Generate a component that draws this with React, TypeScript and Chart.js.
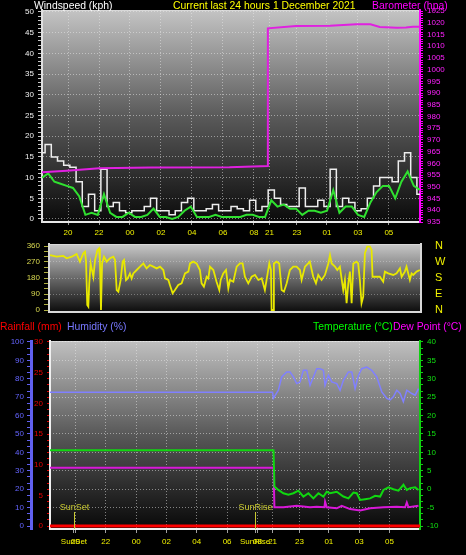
import React, { useEffect, useRef } from 'react';
import { Chart, registerables } from 'chart.js';

Chart.register(...registerables);

const FONT = "'Liberation Sans', Arial, Helvetica, sans-serif";

// ---------- x axis (hours elapsed from the left edge of the charts) ----------
const X_MAX = 24.4;
const xTickHours = [1.68, 3.68, 5.68, 7.68, 9.68, 11.68, 13.68, 14.68, 16.45, 18.39, 20.39, 22.39];
const xTickLabels = ['20', '22', '00', '02', '04', '06', '08', '21', '23', '01', '03', '05'];
const sunEventHours = [1.58, 13.52];
const sunEventNames = ['SunSet', 'SunRise'];

// ---------- wind speed (kph), one reading every 0.4 h ----------
const WIND_STEP_HOURS = 0.4;
const windGust = [
  16, 18, 15, 14, 13, 12.5, 9, 3, 6, 2,
  12, 3, 4, 2, 1.5, 2, 2, 3, 5, 2,
  2, 1, 2, 4, 5, 2, 2, 2.5, 3.5, 2,
  2, 3, 2.5, 2, 4.5, 2, 3, 7, 5, 3.5,
  3, 3, 7.5, 3, 3, 4.5, 3, 12, 3, 5,
  4, 2, 2.5, 5, 8, 10, 10, 9, 14, 16,
  10, 6,
];
const windAverage = [
  10, 11, 9, 8.5, 8, 7.5, 5.5, 1, 1.5, 1,
  6, 1.5, 0.5, 0.5, 1.5, 0.5, 0.5, 1, 2.5, 0.5,
  0.5, 0, 0.5, 2, 3, 0.5, 0.5, 0.5, 1, 0.5,
  0.5, 0.5, 0.5, 1, 1, 0.5, 0.5, 4.5, 3, 3.5,
  2.5, 2.5, 1, 2, 2, 1.5, 2, 7, 1.5, 3,
  3, 1, 0.5, 4, 6.5, 8, 8, 5, 9, 11.5,
  8, 7,
];
const windTimes = windGust.map((_, i) => i * WIND_STEP_HOURS);

// ---------- barometer (hPa) ----------
const baroHours = [0, 1.6, 3.7, 7.0, 12.1, 14.58, 14.58, 16.4, 18.6, 20.3, 21.2, 21.8, 22.9, 23.5, 23.95, 24.4];
const baroValues = [956.2, 956.9, 957.9, 958.3, 958.4, 958.9, 1017.6, 1018.6, 1018.7, 1019.3, 1019.3, 1018.2, 1017.9, 1018, 1018.3, 1018.3];

// ---------- wind direction (degrees) ----------
const dirHours = [
  0.07, 0.5, 0.94, 1.16, 1.49, 1.81, 2.03, 2.25, 2.36, 2.43,
  2.51, 2.58, 2.64, 2.73, 2.91, 3.02, 3.17, 3.28, 3.34, 3.41,
  3.48, 3.61, 3.78, 4.0, 4.22, 4.33, 4.44, 4.55, 4.7, 4.83,
  4.92, 5.05, 5.16, 5.31, 5.42, 5.53, 5.75, 5.97, 6.19, 6.4,
  6.62, 6.84, 7.06, 7.28, 7.5, 7.61, 7.83, 7.93, 8.11, 8.26,
  8.48, 8.7, 8.92, 9.14, 9.25, 9.46, 9.68, 9.9, 10.01, 10.16,
  10.34, 10.45, 10.56, 10.78, 10.99, 11.17, 11.26, 11.43, 11.61, 11.76,
  11.87, 12.09, 12.31, 12.52, 12.7, 12.85, 13.07, 13.29, 13.51, 13.73,
  13.95, 14.16, 14.27, 14.45, 14.56, 14.6, 14.71, 14.75, 14.93, 15.1,
  15.26, 15.41, 15.59, 15.8, 16.02, 16.24, 16.46, 16.57, 16.79, 17.0,
  17.11, 17.33, 17.51, 17.66, 17.88, 18.1, 18.32, 18.43, 18.54, 18.76,
  18.91, 19.08, 19.3, 19.41, 19.52, 19.63, 19.74, 19.85, 19.96, 20.17,
  20.28, 20.39, 20.5, 20.61, 20.72, 20.87, 21.05, 21.16, 21.22, 21.49,
  21.7, 21.92, 22.03, 22.25, 22.58, 22.8, 23.02, 23.13, 23.34, 23.45,
  23.67, 23.78, 23.89, 24.11, 24.33,
];
const dirDegrees = [
  309, 300, 304, 291, 300, 315, 272, 319, 328, 272,
  28, 19, 150, 262, 187, 281, 337, 347, 281, 0,
  262, 300, 272, 291, 300, 281, 112, 103, 169, 272,
  281, 169, 178, 206, 178, 206, 225, 244, 262, 234,
  253, 244, 234, 244, 225, 178, 169, 141, 94, 112,
  141, 150, 206, 216, 262, 272, 262, 225, 150, 131,
  187, 178, 244, 225, 159, 112, 169, 206, 225, 122,
  169, 159, 244, 262, 262, 187, 150, 187, 197, 169,
  178, 112, 169, 262, 225, 0, 0, 262, 272, 262,
  112, 103, 150, 225, 244, 244, 225, 169, 244, 262,
  272, 187, 150, 197, 169, 197, 262, 309, 262, 244,
  225, 244, 112, 169, 38, 150, 216, 38, 262, 272,
  262, 169, 38, 75, 319, 356, 356, 338, 187, 187,
  187, 159, 216, 206, 197, 206, 234, 187, 216, 244,
  169, 206, 197, 216, 225,
];
const compassLabels = ['N', 'E', 'S', 'W', 'N'];

// ---------- humidity (%) ----------
const humHours = [
  0, 14.68, 14.73, 15.06, 15.28, 15.61, 15.83, 16.05, 16.27, 16.49,
  16.71, 16.93, 17.15, 17.37, 17.59, 17.81, 18.03, 18.14, 18.36, 18.58,
  18.91, 19.13, 19.35, 19.68, 19.9, 20.12, 20.34, 20.56, 20.89, 21.22,
  21.55, 21.88, 22.21, 22.43, 22.65, 22.87, 23.09, 23.3, 23.53, 23.86,
  24.08, 24.3,
];
const humValues = [
  72.7, 72.7, 69.4, 73.8, 81, 83.7, 83.7, 81, 77.4, 78.3,
  84.6, 84.6, 76.5, 81, 85.5, 85.5, 84.6, 76.5, 81.9, 78.3,
  77.4, 73.8, 79.2, 83.7, 83.7, 74.7, 81.9, 85.5, 86.4, 84.6,
  81, 72.9, 69.4, 68.5, 70.3, 73.8, 72, 67.6, 73.8, 72,
  71.1, 74.7,
];

// ---------- temperature / dew point (°C) ----------
const tempHours = [
  0, 14.74, 14.8, 15.06, 15.39, 15.72, 16.05, 16.38, 16.71, 17.04,
  17.37, 17.7, 18.03, 18.25, 18.47, 18.91, 19.35, 19.68, 20.01, 20.23,
  20.45, 20.78, 21.11, 21.44, 21.77, 21.99, 22.32, 22.65, 22.98, 23.31,
  23.53, 23.75, 24.08, 24.3,
];
const tempValues = [
  10.6, 10.6, 0.7, -0.2, -1.1, -1.5, -1.1, -0.4, -2.0, -1.1,
  -2.5, -1.1, -2.0, -0.7, -1.1, -0.7, -2.0, -2.5, -0.9, -1.1,
  -2.9, -2.7, -2.5, -1.8, -2.0, -0.2, 0.5, 0, -0.4, 1.2,
  -0.2, 0.3, 0.5, -0.2,
];
const dewHours = [0, 14.74, 14.8, 15.39, 16.27, 17.15, 17.59, 18.1, 18.14, 18.25, 18.91, 19.24, 19.79, 20.45, 21.11, 21.99, 22.87, 23.42, 23.53, 23.64, 24.3];
const dewValues = [5.8, 5.8, -4.9, -4.9, -4.5, -4.9, -4.8, -4.9, -3.4, -4.9, -5.2, -4.5, -5.4, -5.8, -5.2, -4.9, -4.8, -4.9, -3.6, -4.9, -4.5];

// ---------- rainfall (mm) ----------
const rainHours = [0, 24.4];
const rainValues = [0, 0];

// ---------- helpers ----------
type TickSpec = { value: number; label: string };
const steps = (count: number, step: number, from: number) => {
  const out: number[] = [];
  for (let k = 0; k <= count; k++) out.push(from + k * step);
  return out;
};
const pts = (xs: number[], ys: number[]) => xs.map((x, i) => ({ x, y: ys[i] }));
const GRID = 'rgba(235,235,235,0.5)';
const CLEAR = 'rgba(0,0,0,0)';

const fixed = (list: TickSpec[]) => ({
  afterBuildTicks: (s: any) => {
    s.ticks = list.map((t) => ({ value: t.value }));
  },
  callback: (_v: any, i: number) => (list[i] ? list[i].label : ''),
});
// fix an axis box to an exact size and stop it from reserving label padding
const fitW = (w: number) => (s: any) => { s.width = w; s.paddingTop = 0; s.paddingBottom = 0; };
const fitH = (h: number) => (s: any) => { s.height = h; s.paddingLeft = 0; s.paddingRight = 0; };

const windTickSpecs: TickSpec[] = steps(50, 1, 0).map((v) => ({ value: v, label: v % 5 === 0 ? String(v) : '' }));
const baroTickSpecs: TickSpec[] = steps(90, 1, 935).map((v) => ({ value: v, label: v % 5 === 0 ? String(v) : '' }));
const dirTickSpecs: TickSpec[] = steps(12, 30, 0).map((v) => ({ value: v, label: v % 90 === 0 ? String(v) : '' }));
const compassTickSpecs: TickSpec[] = compassLabels.map((l, i) => ({ value: i * 90, label: l }));
const humTickSpecs: TickSpec[] = steps(30, 10 / 3, 0).map((v, k) => ({ value: v, label: k % 3 === 0 ? String(Math.round(v)) : '' }));
const rainTickSpecs: TickSpec[] = steps(30, 1, 0).map((v) => ({ value: v, label: v % 5 === 0 ? String(v) : '' }));
const tempTickSpecs: TickSpec[] = steps(30, 5 / 3, -10).map((v, k) => ({ value: v, label: k % 3 === 0 ? String(Math.round(v)) : '' }));
const topXSpecs: TickSpec[] = xTickHours.map((v, i) => ({ value: v, label: xTickLabels[i] }));
const bottomXSpecs: TickSpec[] = [
  ...topXSpecs,
  ...sunEventHours.map((v, i) => ({ value: v, label: sunEventNames[i] })),
].sort((a, b) => a.value - b.value);

const makeBackground = (stops: [number, string][]) => ({
  id: 'plotBackground',
  beforeDraw(chart: any) {
    const { ctx, chartArea: a } = chart;
    if (!a) return;
    const g = ctx.createLinearGradient(0, a.top, 0, a.bottom);
    stops.forEach(([o, c]) => g.addColorStop(o, c));
    ctx.save();
    ctx.fillStyle = g;
    ctx.fillRect(a.left, a.top, a.right - a.left, a.bottom - a.top);
    ctx.strokeStyle = '#d8d8d8';
    ctx.lineWidth = 1;
    ctx.beginPath();
    ctx.moveTo(a.left, a.top + 0.5);
    ctx.lineTo(a.right, a.top + 0.5);
    ctx.stroke();
    ctx.restore();
  },
});

const sunMarkers = {
  id: 'sunMarkers',
  afterDatasetsDraw(chart: any) {
    const { ctx, chartArea: a, scales } = chart;
    sunEventHours.forEach((h, i) => {
      const px = Math.round(scales.x.getPixelForValue(h)) + 0.5;
      ctx.save();
      ctx.strokeStyle = '#c8c830';
      ctx.lineWidth = 1;
      ctx.beginPath();
      ctx.moveTo(px, a.bottom - 17);
      ctx.lineTo(px, a.bottom);
      ctx.stroke();
      ctx.fillStyle = '#c8c830';
      ctx.font = `9px ${FONT}`;
      ctx.textAlign = 'center';
      ctx.textBaseline = 'alphabetic';
      ctx.fillText(sunEventNames[i], px, a.bottom - 19);
      ctx.restore();
    });
  },
};

const tickFont = { family: FONT, size: 8 };
const base = {
  animation: false as const,
  responsive: false,
  devicePixelRatio: 1,
  events: [] as any[],
  plugins: { legend: { display: false }, tooltip: { enabled: false } },
};
const labelledGrid = (c: any) => (c.tick && c.tick.label ? GRID : CLEAR);

function topConfig(): any {
  const wx = fixed(topXSpecs);
  const ws = fixed(windTickSpecs);
  const bp = fixed(baroTickSpecs);
  return {
    type: 'line',
    data: {
      datasets: [
        { label: 'Barometer', data: pts(baroHours, baroValues), yAxisID: 'baro', borderColor: '#e020e0', borderWidth: 2, pointRadius: 0, order: 0 },
        { label: 'Average', data: pts(windTimes, windAverage), yAxisID: 'ws', borderColor: '#30e030', borderWidth: 2, pointRadius: 0, order: 1 },
        { label: 'Gust', data: pts(windTimes, windGust), yAxisID: 'ws', borderColor: '#eeeeee', borderWidth: 1.5, pointRadius: 0, stepped: 'middle', order: 2 },
      ],
    },
    options: {
      ...base,
      layout: { padding: { top: 10, left: 0, right: 0, bottom: 0 } },
      scales: {
        x: {
          type: 'linear', min: 0, max: X_MAX,
          afterBuildTicks: wx.afterBuildTicks,
          afterFit: fitH(18),
          ticks: { autoSkip: false, maxRotation: 0, padding: 3, color: '#f0f000', font: tickFont, callback: wx.callback },
          grid: { color: GRID, tickLength: 3, tickColor: '#a0a0a0' },
          border: { display: true, color: '#e8e8e8', width: 2, dash: [1, 2] },
        },
        ws: {
          type: 'linear', position: 'left', min: -0.725, max: 50.48,
          afterBuildTicks: ws.afterBuildTicks,
          afterFit: fitW(42),
          ticks: { autoSkip: false, padding: 4, color: '#f0f0f0', font: tickFont, callback: ws.callback },
          grid: { color: labelledGrid, tickLength: 4, tickColor: '#c8c8c8' },
          border: { display: true, color: '#e0e0e0', width: 2, dash: [1, 2] },
        },
        baro: {
          type: 'linear', position: 'right', min: 935, max: 1025.43,
          afterBuildTicks: bp.afterBuildTicks,
          afterFit: fitW(46),
          ticks: { autoSkip: false, padding: 4, color: '#ff20ff', font: tickFont, callback: bp.callback },
          grid: { drawOnChartArea: false, tickLength: 3, tickColor: '#ff00ff' },
          border: { display: true, color: '#ff00ff', width: 2 },
        },
      },
    },
    plugins: [makeBackground([[0, '#c4c4c4'], [0.5, '#5a5a5a'], [1, '#0a0a0a']])],
  };
}

function midConfig(): any {
  const dr = fixed(dirTickSpecs);
  const cp = fixed(compassTickSpecs);
  return {
    type: 'line',
    data: {
      datasets: [
        { label: 'Wind direction', data: pts(dirHours, dirDegrees), yAxisID: 'dir', borderColor: '#e8e800', borderWidth: 1.8, pointRadius: 0 },
      ],
    },
    options: {
      ...base,
      layout: { padding: { top: 4, left: 0, right: 0, bottom: 0 } },
      scales: {
        x: {
          type: 'linear', min: 0, max: X_MAX,
          afterFit: fitH(8),
          ticks: { display: false },
          grid: { display: false },
          border: { display: true, color: '#d8d8d8', width: 2 },
        },
        dir: {
          type: 'linear', position: 'left', min: -11.25, max: 371.25,
          afterBuildTicks: dr.afterBuildTicks,
          afterFit: fitW(49),
          ticks: { autoSkip: false, padding: 4, color: '#d8d850', font: tickFont, callback: dr.callback },
          grid: { color: (c: any) => (c.tick && c.tick.label && c.tick.value % 360 !== 0 ? 'rgba(235,235,235,0.35)' : CLEAR), tickLength: 5, tickColor: '#b0b040' },
          border: { display: true, color: '#d8d8d8', width: 2, dash: [1, 2] },
        },
        compass: {
          type: 'linear', position: 'right', min: -11.25, max: 371.25,
          afterBuildTicks: cp.afterBuildTicks,
          afterFit: fitW(45),
          ticks: { autoSkip: false, padding: 14, color: '#f0f000', font: { family: FONT, size: 11 }, callback: cp.callback },
          grid: { drawOnChartArea: false, drawTicks: false },
          border: { display: true, color: '#d8d8d8', width: 2 },
        },
      },
    },
    plugins: [makeBackground([[0, '#c8c8c8'], [0.55, '#606060'], [1, '#0c0c0c']])],
  };
}

function bottomConfig(): any {
  const bx = fixed(bottomXSpecs);
  const hm = fixed(humTickSpecs);
  const rn = fixed(rainTickSpecs);
  const tp = fixed(tempTickSpecs);
  return {
    type: 'line',
    data: {
      datasets: [
        { label: 'Rainfall', data: pts(rainHours, rainValues), yAxisID: 'rain', borderColor: '#ff0000', borderWidth: 3, pointRadius: 0, order: 0 },
        { label: 'Temperature', data: pts(tempHours, tempValues), yAxisID: 'temp', borderColor: '#10d810', borderWidth: 2, pointRadius: 0, order: 1 },
        { label: 'Dew Point', data: pts(dewHours, dewValues), yAxisID: 'temp', borderColor: '#d818d8', borderWidth: 2, pointRadius: 0, order: 2 },
        { label: 'Humidity', data: pts(humHours, humValues), yAxisID: 'hum', borderColor: '#8080ff', borderWidth: 1.5, pointRadius: 0, order: 3 },
      ],
    },
    options: {
      ...base,
      layout: { padding: { top: 21, left: 0, right: 0, bottom: 0 } },
      scales: {
        x: {
          type: 'linear', min: 0, max: X_MAX,
          afterBuildTicks: bx.afterBuildTicks,
          afterFit: fitH(26),
          ticks: { autoSkip: false, maxRotation: 0, padding: 4, color: '#f0f000', font: tickFont, callback: bx.callback },
          grid: { color: (c: any) => (c.tick && sunEventHours.indexOf(c.tick.value) >= 0 ? CLEAR : GRID), tickLength: 4, tickColor: '#a0a0a0' },
          border: { display: true, color: '#f0f0f0', width: 2, dash: [1, 2] },
        },
        hum: {
          type: 'linear', position: 'left', weight: 2, min: -1.63, max: 100.54,
          afterBuildTicks: hm.afterBuildTicks,
          afterFit: fitW(31),
          ticks: { autoSkip: false, padding: 3, color: '#6464ff', font: tickFont, callback: hm.callback },
          grid: { drawOnChartArea: false, tickLength: 4, tickColor: '#6060f0' },
          border: { display: true, color: '#6060f0', width: 3 },
        },
        rain: {
          type: 'linear', position: 'left', weight: 1, min: -0.489, max: 30.163,
          afterBuildTicks: rn.afterBuildTicks,
          afterFit: fitW(19),
          ticks: { autoSkip: false, padding: 4, color: '#e80000', font: tickFont, callback: rn.callback },
          grid: { drawOnChartArea: false, tickLength: 3, tickColor: '#e00000' },
          border: { display: true, color: '#f0f0f0', width: 2 },
        },
        temp: {
          type: 'linear', position: 'right', min: -10.815, max: 40.27,
          afterBuildTicks: tp.afterBuildTicks,
          afterFit: fitW(46),
          ticks: { autoSkip: false, padding: 4, color: '#10e010', font: tickFont, callback: tp.callback },
          grid: { color: labelledGrid, tickLength: 3, tickColor: '#10d010' },
          border: { display: true, color: '#10d010', width: 2, dash: [1, 2] },
        },
      },
    },
    plugins: [makeBackground([[0, '#c0c0c0'], [0.5, '#585858'], [1, '#080808']]), sunMarkers],
  };
}

const titleStyle = (left: number, top: number, color: string): React.CSSProperties => ({
  position: 'absolute', left, top, color, fontFamily: FONT, fontSize: '10.4px', lineHeight: '11px', whiteSpace: 'nowrap',
});

export default function App() {
  const topRef = useRef<HTMLCanvasElement>(null);
  const midRef = useRef<HTMLCanvasElement>(null);
  const botRef = useRef<HTMLCanvasElement>(null);

  useEffect(() => {
    const charts = [
      new Chart(topRef.current as HTMLCanvasElement, topConfig()),
      new Chart(midRef.current as HTMLCanvasElement, midConfig()),
      new Chart(botRef.current as HTMLCanvasElement, bottomConfig()),
    ];
    return () => charts.forEach((c) => c.destroy());
  }, []);

  return (
    <div style={{ position: 'fixed', left: 0, top: 0, width: 466, height: 555, background: '#000', overflow: 'hidden' }}>
      <canvas ref={topRef} width={466} height={240} style={{ position: 'absolute', left: 0, top: 0 }} />
      <canvas ref={midRef} width={466} height={80} style={{ position: 'absolute', left: 0, top: 240 }} />
      <canvas ref={botRef} width={466} height={235} style={{ position: 'absolute', left: 0, top: 320 }} />
      <span style={titleStyle(34, 0, '#ffffff')}>Windspeed (kph)</span>
      <span style={titleStyle(173, 0, '#ffff00')}>Current last 24 hours 1 December 2021</span>
      <span style={titleStyle(372, 0, '#ff00ff')}>Barometer (hpa)</span>
      <span style={titleStyle(0, 321, '#ff0000')}>Rainfall (mm)</span>
      <span style={titleStyle(67, 321, '#7878ff')}>Humidity (%)</span>
      <span style={titleStyle(313, 321, '#00ff00')}>Temperature (°C)</span>
      <span style={titleStyle(393, 321, '#ff00ff')}>Dew Point (°C)</span>
    </div>
  );
}
